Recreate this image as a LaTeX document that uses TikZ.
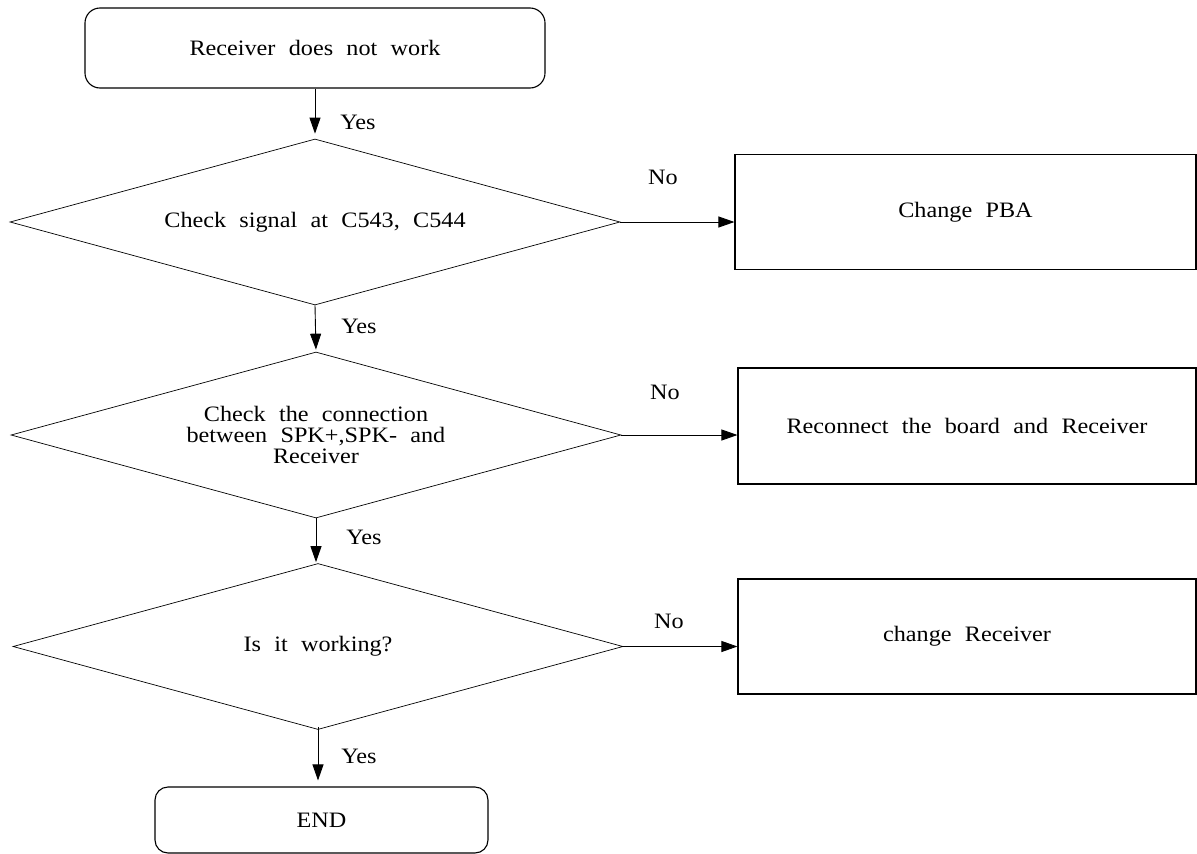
\documentclass[tikz,border=0pt]{standalone}
\usepackage{fontspec}
\setmainfont{Liberation Serif}[FakeStretch=1.1, WordSpace=2.2]
\usetikzlibrary{shapes.geometric,arrows.meta}
\begin{document}
\begin{tikzpicture}[x=1pt,y=-1pt,
  every node/.style={font=\fontsize{22}{21}\selectfont, inner sep=0pt},
  termbox/.style={draw, line width=1.1pt, rounded corners=15pt},
  procbox/.style={draw, line width=1.1pt, rectangle, minimum width=461pt, minimum height=115pt, align=center},
  decbox/.style={draw, line width=0.7pt, diamond, aspect=3.67, minimum width=610pt, minimum height=166pt, align=center},
  arr/.style={line width=0.9pt, -{Triangle[length=16pt,width=11pt]}},
  lbl/.style={anchor=center}]
\useasboundingbox (0,0) rectangle (1197,854);
% start
\node[termbox, minimum width=460pt, minimum height=80pt] (start) at (315,48) {Receiver does not work};
% decisions
\node[decbox] (d1) at (315,222) {Check signal at C543, C544};
\node[decbox] (d2) at (316,435) {Check the connection\\between SPK+,SPK- and\\Receiver};
\node[decbox] (d3) at (318,646.5) {Is it working?};
% process boxes
\node[procbox] (b1) at (965.5,212) {Change PBA};
\node[procbox, minimum width=458pt, minimum height=116pt] (b2) at (967,426) {Reconnect the board and Receiver};
\node[procbox, minimum width=458pt, minimum height=115pt] (b3) at (967,636.5) {change Receiver};
% end
\node[termbox, rounded corners=13pt, minimum width=333pt, minimum height=66pt] (fin) at (321.5,820) {END};
% connectors
\draw[arr, shorten >=5pt] (start.south) -- (d1.north);
\draw[arr, shorten >=2pt] (d1.south) -- (d2.north);
\draw[arr, shorten >=1pt] (d2.south) -- (d2.south |- d3.north);
\draw[arr, shorten >=6pt] ([yshift=3pt]d3.south) -- (d3.south |- fin.north);
\draw[arr] (d1.east) -- (d1.east -| b1.west);
\draw[arr] (d2.east) -- (d2.east -| b2.west);
\draw[arr] (d3.east) -- (d3.east -| b3.west);
% labels
\node[lbl] (y1) at (358,122) {Yes};
\node[lbl] (y2) at (359,326) {Yes};
\node[lbl] (y3) at (364,537) {Yes};
\node[lbl] (y4) at (359,756) {Yes};
\node[lbl] (n1) at (663,177) {No};
\node[lbl] (n2) at (665,392) {No};
\node[lbl] (n3) at (669,621) {No};
\end{tikzpicture}
\end{document}
